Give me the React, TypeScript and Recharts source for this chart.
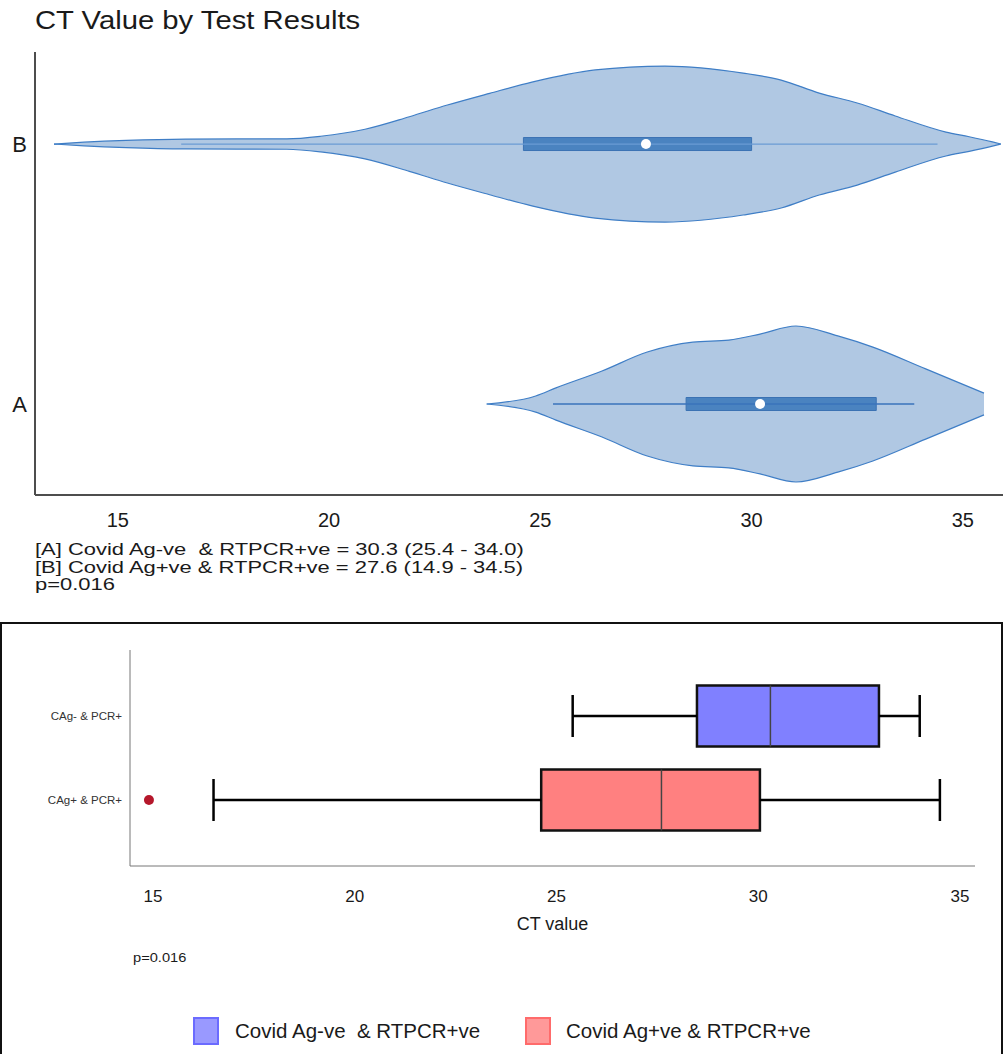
import React from 'react';
import {
  ComposedChart,
  Area,
  Scatter,
  XAxis,
  YAxis,
  ReferenceArea,
  ReferenceLine,
  ReferenceDot,
} from 'recharts';

const FONT = '"Liberation Sans", Arial, Helvetica, sans-serif';

// ---- top panel: violins (CT value -> half width of the density, in y units)
const violinBCt = [13.49, 14.2, 15.2, 16.6, 19.0, 19.8, 20.85, 21.9, 22.8, 23.8, 24.8, 26.3, 27.95, 29.8, 30.7, 31.6, 32.5, 33.4, 34.6, 35.15, 35.7, 35.9];
const violinBWidth = [0, 0.007, 0.014, 0.019, 0.02, 0.03, 0.057, 0.105, 0.15, 0.195, 0.238, 0.285, 0.3, 0.273, 0.246, 0.196, 0.158, 0.108, 0.046, 0.028, 0.008, 0];
const violinACt = [23.73, 24.89, 25.37, 26.46, 27.53, 28.61, 29.46, 30.2, 31.05, 32.04, 32.87, 34.12, 35.5];
const violinAWidth = [0, 0.031, 0.062, 0.127, 0.2, 0.238, 0.246, 0.269, 0.3, 0.262, 0.219, 0.135, 0.042];

const violinLabels = ['A', 'B'];
const violinStats = [
  { pos: 1, low: 25.3, q1: 28.45, median: 30.2, q3: 32.95, high: 33.85 },
  { pos: 2, low: 16.5, q1: 24.6, median: 27.5, q3: 30.0, high: 34.4 },
];
const topTicks = [15, 20, 25, 30, 35];

const notes = [
  '[A] Covid Ag-ve  & RTPCR+ve = 30.3 (25.4 - 34.0)',
  '[B] Covid Ag+ve & RTPCR+ve = 27.6 (14.9 - 34.5)',
  'p=0.016',
];

// ---- bottom panel: box plot
const boxLabels = ['CAg+ & PCR+', 'CAg- & PCR+'];
const boxStats = [
  { pos: 1, low: 16.5, q1: 24.62, median: 27.6, q3: 30.04, high: 34.5, fill: '#ff8080' },
  { pos: 2, low: 25.4, q1: 28.48, median: 30.3, q3: 32.99, high: 34.0, fill: '#8080ff' },
];
const outliers = [{ ct: 14.9, pos: 1 }];
const bottomTicks = [15, 20, 25, 30, 35];

const legendItems = [
  { label: 'Covid Ag-ve  & RTPCR+ve', fill: '#9999ff', stroke: '#6b6bff', box: 193, text: 235 },
  { label: 'Covid Ag+ve & RTPCR+ve', fill: '#ff9999', stroke: '#ff6b6b', box: 525, text: 566 },
];

const violinRows = [
  ...violinBCt.map((ct, i) => ({ ct, b: [2 - violinBWidth[i], 2 + violinBWidth[i]] })),
  ...violinACt.map((ct, i) => ({ ct, a: [1 - violinAWidth[i], 1 + violinAWidth[i]] })),
].sort((p, q) => p.ct - q.ct);

const BOX_H = 0.025;
const BP_H = 0.363;
const CAP_H = 0.25;

const App: React.FC = () => {
  return (
    <div
      style={{
        position: 'absolute',
        left: 0,
        top: 0,
        width: 1003,
        height: 1054,
        overflow: 'hidden',
        background: '#fff',
        fontFamily: FONT,
        color: '#1a1a1a',
      }}
    >
      <div
        style={{
          position: 'absolute',
          left: 35,
          top: 8,
          fontSize: 25,
          lineHeight: '25px',
          whiteSpace: 'nowrap',
          transform: 'scaleX(1.17)',
          transformOrigin: 'left top',
        }}
      >
        CT Value by Test Results
      </div>

      <div style={{ position: 'absolute', left: 0, top: 0 }}>
        <ComposedChart
          width={1003}
          height={545}
          data={violinRows}
          margin={{ top: 52, right: 0, left: 0, bottom: 0 }}
          style={{ fontFamily: FONT }}
        >
          <XAxis
            dataKey="ct"
            type="number"
            domain={[13.04, 35.95]}
            allowDataOverflow
            ticks={topTicks}
            height={50}
            tickLine={false}
            tickMargin={12}
            axisLine={{ stroke: '#4d4d4d', strokeWidth: 2 }}
            tick={{ fontSize: 20, fill: '#1a1a1a' }}
          />
          <YAxis
            type="number"
            domain={[0.65, 2.354]}
            allowDataOverflow
            ticks={[1, 2]}
            width={35}
            tickLine={false}
            tickFormatter={(v: number) => violinLabels[v - 1]}
            axisLine={{ stroke: '#4d4d4d', strokeWidth: 2 }}
            tick={{ fontSize: 22, fill: '#1a1a1a' }}
          />
          <Area
            dataKey="b"
            type="monotone"
            connectNulls
            fill="#b0c8e3"
            fillOpacity={1}
            stroke="#3f7ec6"
            strokeWidth={1.2}
            dot={false}
            activeDot={false}
            isAnimationActive={false}
          />
          <Area
            dataKey="a"
            type="monotone"
            connectNulls
            fill="#b0c8e3"
            fillOpacity={1}
            stroke="#3f7ec6"
            strokeWidth={1.2}
            dot={false}
            activeDot={false}
            isAnimationActive={false}
          />
          {violinStats.map((s) => (
            <ReferenceLine
              key={`w${s.pos}`}
              segment={[{ x: s.low, y: s.pos }, { x: s.high, y: s.pos }]}
              stroke={s.pos === 2 ? '#6a9bd4' : '#3a73bb'}
              strokeWidth={s.pos === 2 ? 1.2 : 1.5}
            />
          ))}
          {violinStats.map((s) => (
            <ReferenceArea
              key={`b${s.pos}`}
              x1={s.q1}
              x2={s.q3}
              y1={s.pos - BOX_H}
              y2={s.pos + BOX_H}
              fill="#4a83c0"
              fillOpacity={1}
              stroke="#3b72b3"
              strokeWidth={1}
            />
          ))}
          {violinStats.map((s) => (
            <ReferenceDot key={`m${s.pos}`} x={s.median} y={s.pos} r={5} fill="#ffffff" stroke="none" />
          ))}
        </ComposedChart>
      </div>

      <div
        style={{
          position: 'absolute',
          left: 35,
          top: 541,
          fontSize: 16.5,
          lineHeight: '17.5px',
          whiteSpace: 'nowrap',
          transform: 'scaleX(1.33)',
          transformOrigin: 'left top',
        }}
      >
        {notes.map((n) => (
          <div key={n} style={{ whiteSpace: 'pre' }}>
            {n}
          </div>
        ))}
      </div>

      <div
        style={{
          position: 'absolute',
          left: 0,
          top: 622,
          width: 1003,
          height: 460,
          boxSizing: 'border-box',
          border: '2px solid #111',
        }}
      />

      <div style={{ position: 'absolute', left: 0, top: 622 }}>
        <ComposedChart
          width={1003}
          height={320}
          margin={{ top: 28, right: 28, left: 0, bottom: 0 }}
          style={{ fontFamily: FONT }}
        >
          <XAxis
            dataKey="ct"
            type="number"
            domain={[14.43, 35.37]}
            allowDataOverflow
            ticks={bottomTicks}
            height={76}
            tickLine={false}
            tickMargin={18}
            axisLine={{ stroke: '#777', strokeWidth: 1 }}
            tick={{ fontSize: 17, fill: '#1a1a1a' }}
            label={{ value: 'CT value', position: 'insideBottom', offset: 12, fontSize: 18, fill: '#1a1a1a' }}
          />
          <YAxis
            dataKey="pos"
            type="number"
            domain={[0.214, 2.786]}
            allowDataOverflow
            ticks={[1, 2]}
            width={130}
            tickLine={false}
            tickFormatter={(v: number) => boxLabels[v - 1]}
            axisLine={{ stroke: '#777', strokeWidth: 1 }}
            tick={{ fontSize: 11.5, fill: '#333' }}
          />
          {boxStats.map((s) => (
            <ReferenceLine
              key={`lw${s.pos}`}
              segment={[{ x: s.low, y: s.pos }, { x: s.q1, y: s.pos }]}
              stroke="#000"
              strokeWidth={2.5}
            />
          ))}
          {boxStats.map((s) => (
            <ReferenceLine
              key={`hw${s.pos}`}
              segment={[{ x: s.q3, y: s.pos }, { x: s.high, y: s.pos }]}
              stroke="#000"
              strokeWidth={2.5}
            />
          ))}
          {boxStats.map((s) => (
            <ReferenceLine
              key={`lc${s.pos}`}
              segment={[{ x: s.low, y: s.pos - CAP_H }, { x: s.low, y: s.pos + CAP_H }]}
              stroke="#000"
              strokeWidth={2.5}
            />
          ))}
          {boxStats.map((s) => (
            <ReferenceLine
              key={`hc${s.pos}`}
              segment={[{ x: s.high, y: s.pos - CAP_H }, { x: s.high, y: s.pos + CAP_H }]}
              stroke="#000"
              strokeWidth={2.5}
            />
          ))}
          {boxStats.map((s) => (
            <ReferenceArea
              key={`bx${s.pos}`}
              x1={s.q1}
              x2={s.q3}
              y1={s.pos - BP_H}
              y2={s.pos + BP_H}
              fill={s.fill}
              fillOpacity={1}
              stroke="#111"
              strokeWidth={2.5}
            />
          ))}
          {boxStats.map((s) => (
            <ReferenceLine
              key={`md${s.pos}`}
              segment={[{ x: s.median, y: s.pos - BP_H }, { x: s.median, y: s.pos + BP_H }]}
              stroke="#444"
              strokeWidth={1.5}
            />
          ))}
          <Scatter
            data={outliers}
            dataKey="pos"
            fill="#b5172b"
            isAnimationActive={false}
            shape={(p: any) => <circle cx={p.cx} cy={p.cy} r={5} fill="#b5172b" />}
          />
        </ComposedChart>
      </div>

      <div
        style={{
          position: 'absolute',
          left: 133,
          top: 951,
          fontSize: 12,
          lineHeight: '14px',
          transform: 'scaleX(1.22)',
          transformOrigin: 'left top',
          whiteSpace: 'nowrap',
        }}
      >
        p=0.016
      </div>

      {legendItems.map((l) => (
        <React.Fragment key={l.label}>
          <div
            style={{
              position: 'absolute',
              left: l.box,
              top: 1017,
              width: 26,
              height: 28,
              boxSizing: 'border-box',
              background: l.fill,
              border: `2px solid ${l.stroke}`,
            }}
          />
          <div
            style={{
              position: 'absolute',
              left: l.text,
              top: 1019,
              fontSize: 20.5,
              lineHeight: '24px',
              whiteSpace: 'pre',
            }}
          >
            {l.label}
          </div>
        </React.Fragment>
      ))}
    </div>
  );
};

export default App;
